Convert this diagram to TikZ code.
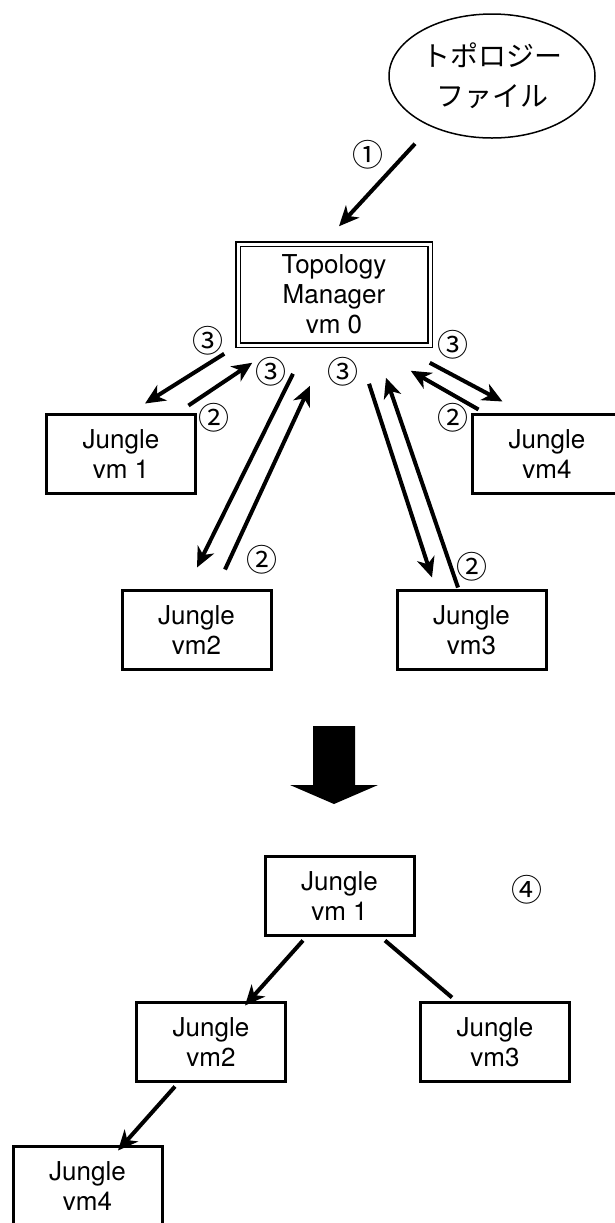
\documentclass[tikz,border=0pt]{standalone}
\usepackage{fontspec}
\setmainfont{TeX Gyre Heros}
\newfontfamily\jafont{Noto Sans CJK JP}
\usetikzlibrary{positioning,calc,shapes.geometric,arrows.meta}

\tikzset{
	vmbox/.style={draw,line width=1.5pt,minimum width=74.5pt,minimum height=39.5pt,
		inner sep=0pt,align=center,font=\fontsize{13}{15}\selectfont},
	arr/.style={line width=2pt,-{Stealth[length=10pt,width=9pt,inset=3pt]}},
	num/.style={inner sep=0pt,font=\jafont\fontsize{15.5}{17}\selectfont}
}

\begin{document}
\begin{tikzpicture}[x=0.5pt,y=-0.5pt]
	\useasboundingbox (0,0) rectangle (615,1223);
	
	%file and manager
	\node[draw,ellipse,line width=0.75pt,minimum width=103pt,minimum height=62pt,inner sep=0pt,
	align=center,font=\jafont\fontsize{14}{20}\selectfont] (file) at (492,76) {トポロジー\\ファイル};
	\node[draw,double,line width=0.75pt,double distance=1.5pt,minimum width=96pt,minimum height=50.5pt,
	inner sep=0pt,align=center,font=\fontsize{13}{15}\selectfont] (tm) at (334,294.5) {Topology\\Manager\\vm 0};
	
	%jungle vms, first stage
	\node[vmbox] (vm1) at (121,454) {Jungle\\vm 1};
	\node[vmbox] (vm4) at (547,454) {Jungle\\vm4};
	\node[vmbox] (vm2) at (196.5,630) {Jungle\\vm2};
	\node[vmbox] (vm3) at (471.5,630) {Jungle\\vm3};
	
	%step numbers
	\node[num] (s1) at (368,155) {①};
	\node[num] (s3a) at (208,341) {③};
	\node[num] (s3b) at (271,372) {③};
	\node[num] (s3c) at (343,372) {③};
	\node[num] (s3d) at (453,345) {③};
	\node[num] (s2a) at (214,418) {②};
	\node[num] (s2b) at (453,418) {②};
	\node[num] (s2c) at (262,560) {②};
	\node[num] (s2d) at (472,567) {②};
	
	\draw[arr] ($(file.south)+(-77,5)$) -- ($(tm.north)+(5,-17)$);
	
	%messages between manager and vms
	\draw[arr] ($(tm.south west)+(-13,8)$) -- ($(vm1.north)+(24,-9.5)$);
	\draw[arr] ($(vm1.north east)+(-8.5,-7.5)$) -- ($(tm.south west)+(15,17)$);
	\draw[arr] ($(tm.south east)+(-1,17)$) -- ($(vm4.north west)+(31.5,-11.5)$);
	\draw[arr] ($(vm4.north west)+(7.5,-3.5)$) -- ($(tm.south east)+(-20,25)$);
	\draw[arr] ($(tm.south)+(-41,28)$) -- ($(vm2.north)+(0.5,-21.5)$);
	\draw[arr] ($(vm2.north)+(28.5,-19.5)$) -- ($(tm.south)+(-24,40)$);
	\draw[arr] ($(tm.south)+(35,38)$) -- ($(vm3.north)+(-39.5,-11.5)$);
	\draw[arr] ($(vm3.north)+(-13.5,-1.5)$) -- ($(tm.south)+(52,32)$);
	
	%big arrow
	\fill (313,726) -- (355,726) -- (355,785) -- (378,785) -- (334,804) -- (290,785) -- (313,785) -- cycle;
	
	%resulting tree
	\node[vmbox] (bvm1) at (339.5,896) {Jungle\\vm 1};
	\node[vmbox] (bvm2) at (211,1042) {Jungle\\vm2};
	\node[vmbox] (bvm3) at (495,1042) {Jungle\\vm3};
	\node[vmbox] (bvm4) at (87.5,1186) {Jungle\\vm4};
	\node[num] (s4) at (527,890) {④};
	
	\draw[arr] ($(bvm1.south)+(-36.5,3.5)$) -- ($(bvm2.north)+(34,4.5)$);
	\draw[line width=2pt] ($(bvm1.south)+(45.5,3.5)$) -- ($(bvm3.north)+(-43,-3.5)$);
	\draw[arr] ($(bvm2.south)+(-36,3.5)$) -- ($(bvm4.north)+(30.5,5.5)$);
	
\end{tikzpicture}
\end{document}
